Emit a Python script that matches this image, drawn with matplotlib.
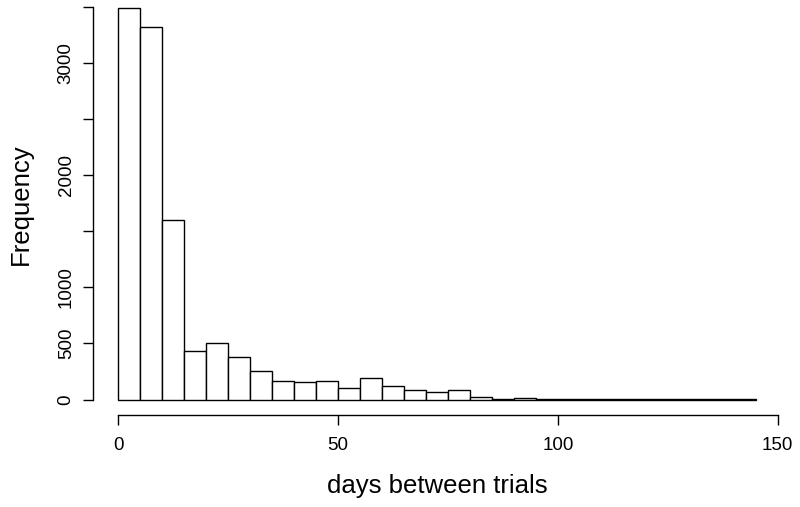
import numpy as np
import matplotlib
matplotlib.use('Agg')
import matplotlib.pyplot as plt

plt.rcParams['font.family'] = ['Liberation Sans', 'DejaVu Sans']

# histogram of days between trials, bins of 5 days from 0 to 145
bin_edges = np.arange(0, 150, 5)
counts = [3490, 3318, 1603, 430, 501, 383, 255, 163, 157, 166,
          107, 193, 118, 83, 71, 83, 22, 5, 14, 1,
          4, 3, 1, 1, 4, 2, 1, 3, 1]
x_ticks = [0, 50, 100, 150]
y_ticks = [0, 500, 1000, 1500, 2000, 2500, 3000, 3500]
y_labels = ['0', '500', '1000', '', '2000', '', '3000', '']

W, H = 800, 507
fig = plt.figure(figsize=(W / 100, H / 100), dpi=100)

# plot region in pixels (R style 4% padding)
left_px, right_px = 92.8, 781.2
bottom_px, top_px = 415.2, -8.0
ax = fig.add_axes([left_px / W, (H - bottom_px) / H,
                   (right_px - left_px) / W, (bottom_px - top_px) / H])

ax.bar(bin_edges[:-1], counts, width=5, align='edge',
       facecolor='white', edgecolor='black', linewidth=1.0)

ymax = max(counts)
ax.set_xlim(-0.04 * 145, 145 * 1.04)
ax.set_ylim(-0.04 * ymax, ymax * 1.04)

for s in ['top', 'right']:
    ax.spines[s].set_visible(False)
ax.spines['left'].set_bounds(0, 3500)
ax.spines['bottom'].set_bounds(0, 150)
ax.spines['left'].set_linewidth(1.0)
ax.spines['bottom'].set_linewidth(1.0)

ax.set_xticks(x_ticks)
ax.set_xticklabels([str(t) for t in x_ticks])
ax.set_yticks(y_ticks)
ax.set_yticklabels(y_labels, rotation=90, va='center')
ax.tick_params(axis='both', direction='out', length=7, width=1.0,
               labelsize=13.5)
ax.tick_params(axis='x', pad=9)
ax.tick_params(axis='y', pad=6)

fig.text(437 / W, 1 - 486 / H, 'days between trials', fontsize=18.5,
         ha='center', va='center')
fig.text(21 / W, 1 - 204 / H, 'Frequency', fontsize=18.5,
         ha='center', va='center', rotation=90)

fig.savefig('out.png', dpi=100)
